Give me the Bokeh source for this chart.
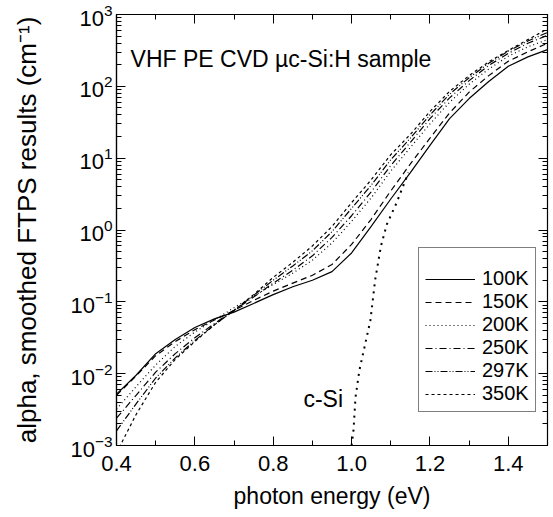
from bokeh.plotting import figure
from bokeh.models import (LinearAxis, LogAxis, Range1d, Label, Legend, LegendItem,
                          FixedTicker, LogTicker, NumeralTickFormatter)
from bokeh.embed import file_html
from bokeh.resources import INLINE

# ---- data (alpha in cm^-1 vs photon energy in eV) ----
energy = [0.40, 0.45, 0.50, 0.55, 0.60, 0.65, 0.70, 0.75, 0.80, 0.85, 0.90, 0.95,
          1.00, 1.05, 1.10, 1.15, 1.20, 1.25, 1.30, 1.35, 1.40, 1.45, 1.50]
alpha_100K = [5.2e-3, 9.5e-3, 1.9e-2, 3.0e-2, 4.4e-2, 5.8e-2, 7.2e-2, 9.5e-2, 0.126, 0.162, 0.20, 0.263,
              0.479, 1.12, 2.7, 6.3, 15.1, 35.5, 67.6, 117, 190, 257, 324]
alpha_150K = [5.0e-3, 9.3e-3, 1.78e-2, 2.8e-2, 4.1e-2, 5.6e-2, 7.6e-2, 0.105, 0.141, 0.182, 0.234, 0.331,
              0.63, 1.41, 3.5, 8.3, 19, 42.7, 83, 141, 224, 302, 398]
alpha_200K = [3.2e-3, 6.6e-3, 1.32e-2, 2.4e-2, 3.8e-2, 5.6e-2, 8.3e-2, 0.12, 0.174, 0.251, 0.38, 0.66,
              1.32, 2.8, 6.6, 14.1, 30, 60, 107, 174, 263, 355, 447]
alpha_250K = [2.4e-3, 5.0e-3, 1.05e-2, 1.9e-2, 3.16e-2, 5.0e-2, 7.6e-2, 0.117, 0.182, 0.275, 0.437, 0.79,
              1.58, 3.4, 7.9, 16.6, 35.5, 69, 120, 195, 288, 398, 513]
alpha_297K = [1.6e-3, 3.8e-3, 8.7e-3, 1.66e-2, 2.9e-2, 4.8e-2, 7.6e-2, 0.123, 0.2, 0.316, 0.513, 0.95,
              2.0, 4.2, 9.5, 19, 40, 77.6, 132, 209, 309, 427, 562]
alpha_350K = [7.9e-4, 2.7e-3, 7.6e-3, 1.58e-2, 2.8e-2, 4.8e-2, 7.6e-2, 0.126, 0.219, 0.355, 0.60, 1.12,
              2.4, 5.0, 11.2, 21.4, 44.7, 85, 141, 219, 316, 447, 631]
energy_csi = [1.000, 1.005, 1.010, 1.020, 1.035, 1.048, 1.060, 1.075, 1.090, 1.115, 1.130, 1.145]
alpha_csi = [1.0e-3, 1.66e-3, 4.7e-3, 1.12e-2, 2.63e-2, 5.5e-2, 0.2, 0.60, 1.2, 2.4, 3.9, 6.3]

labels = ["100K", "150K", "200K", "250K", "297K", "350K"]
series = [alpha_100K, alpha_150K, alpha_200K, alpha_250K, alpha_297K, alpha_350K]
dashes = ["solid", "6 4", "1 3", "7 3 1 3", "7 2 1 2 1 2", "3 3"]

x_ticks = [0.4, 0.6, 0.8, 1.0, 1.2, 1.4]
x_minor = [0.5, 0.7, 0.9, 1.1, 1.3, 1.5]

FONT = "Liberation Sans"

p = figure(width=553, height=517, output_backend="svg", toolbar_location=None,
           x_range=Range1d(0.4, 1.5), y_range=Range1d(1e-3, 1e3), y_axis_type="log",
           min_border_left=116, min_border_right=6, min_border_top=14, min_border_bottom=72)
p.grid.visible = False
p.outline_line_color = "black"
p.outline_line_width = 1.2
p.background_fill_color = "white"

# bottom axis
xa = p.xaxis[0]
xa.ticker = FixedTicker(ticks=x_ticks, minor_ticks=x_minor)
xa.formatter = NumeralTickFormatter(format="0.0")
xa.axis_label = "photon energy (eV)"
# left axis
ya = p.yaxis[0]
ya.ticker = LogTicker(num_minor_ticks=10)
ya.axis_label = "alpha, smoothed FTPS results (cm\u207b\u00b9)"

for ax in [xa, ya]:
    ax.major_tick_in = 9
    ax.major_tick_out = 0
    ax.minor_tick_in = 5
    ax.minor_tick_out = 0
    ax.axis_line_color = "black"
    ax.axis_line_width = 1.2
    ax.major_label_text_font = FONT
    ax.major_label_text_font_size = "22px"
    ax.major_label_text_color = "black"
    ax.axis_label_text_font = FONT
    ax.axis_label_text_font_style = "normal"
    ax.axis_label_text_color = "black"
xa.axis_label_text_font_size = "23px"
ya.axis_label_text_font_size = "26px"
xa.major_label_standoff = 10
xa.axis_label_standoff = 9
ya.major_label_standoff = 4
ya.axis_label_standoff = 25

# top and right axes (ticks only, labels not drawn)
top = LinearAxis(ticker=FixedTicker(ticks=x_ticks, minor_ticks=x_minor))
right = LogAxis(ticker=LogTicker(num_minor_ticks=10))
for ax in [top, right]:
    ax.major_tick_in = 9
    ax.major_tick_out = 0
    ax.minor_tick_in = 5
    ax.minor_tick_out = 0
    ax.major_label_text_font_size = "1px"
    ax.major_label_text_color = None
    ax.major_label_standoff = 0
    ax.axis_line_color = "black"
p.add_layout(top, "above")
p.add_layout(right, "right")

items = []
for lab, s, d in zip(labels, series, dashes):
    r = p.line(energy, s, line_color="black", line_width=1.2, line_dash=d)
    items.append(LegendItem(label=lab, renderers=[r]))

p.line(energy_csi, alpha_csi, line_color="black", line_width=2, line_dash="2 5")

legend = Legend(items=items, location=(302, 33), title=" ")
legend.title_text_font_size = "10px"
legend.title_standoff = 2
legend.label_text_font = FONT
legend.label_text_font_size = "20px"
legend.label_text_color = "black"
legend.glyph_width = 50
legend.glyph_height = 20
legend.label_height = 20
legend.label_standoff = 7
legend.spacing = 0
legend.padding = 6
legend.margin = 0
legend.border_line_color = "black"
legend.border_line_width = 1
legend.background_fill_alpha = 1
p.add_layout(legend, "center")

p.add_layout(Label(x=0.436, y=240, text="VHF PE CVD \u00b5c-Si:H sample", text_font=FONT,
                   text_font_size="23px", text_baseline="middle", text_color="black"))
p.add_layout(Label(x=0.877, y=4.4e-3, text="c-Si", text_font=FONT,
                   text_font_size="23px", text_baseline="middle", text_color="black"))

open("out.html", "w").write(file_html(p, INLINE))
